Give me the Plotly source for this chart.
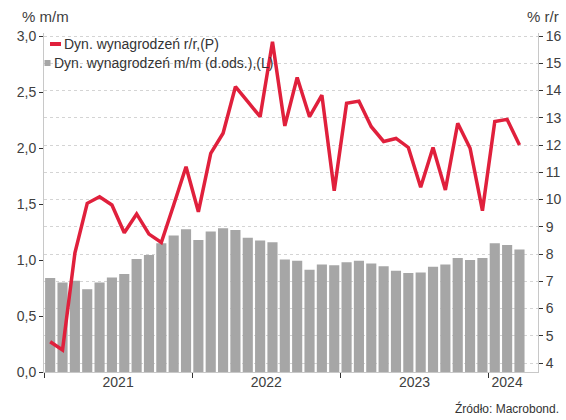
import plotly.graph_objects as go

months = list(range(39))  # Jan 2021 .. Mar 2024 (month index)
mm_values = [0.84, 0.80, 0.815, 0.74, 0.80, 0.845, 0.875, 1.01, 1.045, 1.15, 1.22, 1.275,
             1.18, 1.255, 1.285, 1.27, 1.20, 1.175, 1.16, 1.005, 0.995, 0.915, 0.96, 0.955,
             0.98, 0.995, 0.97, 0.945, 0.905, 0.885, 0.89, 0.94, 0.96, 1.02, 1.0, 1.02,
             1.15, 1.135, 1.095]
yy_values = [4.78, 4.48, 8.03, 9.86, 10.10, 9.80, 8.78, 9.47, 8.73, 8.42, 9.80, 11.20,
             9.55, 11.69, 12.43, 14.14, 13.59, 13.04, 15.79, 12.70, 14.48, 13.04, 13.83, 10.32,
             13.53, 13.61, 12.67, 12.13, 12.24, 11.91, 10.45, 11.91, 10.35, 12.80, 11.88, 9.59,
             12.86, 12.94, 12.0]
year_labels = ["2021", "2022", "2023", "2024"]
year_label_pos = [5.5, 17.5, 29.5, 37]
year_bounds = [-0.5, 11.5, 23.5, 35.5]
left_ticks = [0, 0.5, 1.0, 1.5, 2.0, 2.5, 3.0]
right_ticks = list(range(4, 17))

name_line = "Dyn. wynagrodzeń r/r,(P)"
name_bar = "Dyn. wynagrodzeń m/m (d.ods.),(L)"

FONT = "Liberation Sans, Arial, sans-serif"
TXT = "#404040"
AX = "#c8c8c8"
RED = "#e0203c"
GREY = "#a6a6a6"

ML, MR, MT, MB = 44, 28, 33, 48
W = 566 - ML - MR
H = 420 - MT - MB


def px(x):
    return (x - ML) / W


def py(y):
    return (420 - MB - y) / H


fig = go.Figure()
fig.add_trace(go.Bar(x=months, y=mm_values, name=name_bar, showlegend=False,
                     marker=dict(color=GREY, line=dict(width=0))))
fig.add_trace(go.Scatter(x=months, y=yy_values, mode="lines", name=name_line, showlegend=False,
                         line=dict(color=RED, width=3.5), yaxis="y2"))
# invisible trace for year labels axis
fig.add_trace(go.Scatter(x=year_label_pos, y=[None] * 4, xaxis="x2", showlegend=False,
                         hoverinfo="skip", mode="markers"))

xr = [-0.5, 39.5]
fig.update_layout(
    width=566, height=420,
    margin=dict(l=ML, r=MR, t=MT, b=MB),
    paper_bgcolor="white", plot_bgcolor="white",
    separators=", ",
    font=dict(family=FONT, size=14, color=TXT),
    bargap=0.18,
    showlegend=False,
    xaxis=dict(range=xr, tickmode="array", tickvals=year_bounds, ticktext=[""] * 4,
               ticks="outside", ticklen=5, tickcolor="#333333", showgrid=False,
               showline=True, linecolor=AX, linewidth=1, zeroline=False, automargin=False),
    xaxis2=dict(range=xr, overlaying="x", side="bottom", tickmode="array",
                tickvals=year_label_pos, ticktext=year_labels, ticks="", showgrid=False,
                showline=False, zeroline=False, tickfont=dict(size=14, color=TXT),
                automargin=False),
    yaxis=dict(range=[0, 3.03], tickmode="array", tickvals=left_ticks, tickformat=".1f",
               ticks="outside", ticklen=4, tickcolor="#333333", showgrid=False,
               showline=True, linecolor=AX, linewidth=1, zeroline=False,
               tickfont=dict(size=14, color=TXT), automargin=False),
    yaxis2=dict(range=[3.67, 16.11], overlaying="y", side="right", tickmode="array",
                tickvals=right_ticks, ticks="outside", ticklen=4, tickcolor="#333333",
                showgrid=True, gridcolor="#d4d4d4", griddash="dot", gridwidth=1,
                showline=True, linecolor=AX, linewidth=1, zeroline=False,
                tickfont=dict(size=14, color=TXT), automargin=False),
)

annotations = [
    dict(text="% m/m", x=px(20), y=py(16), xanchor="left"),
    dict(text="% r/r", x=px(561), y=py(16), xanchor="right"),
    dict(text="Źródło: Macrobond.", x=px(561), y=py(408), xanchor="right",
         font=dict(size=12, color="#333333")),
    dict(text=name_line, x=px(62), y=py(44), xanchor="left",
         font=dict(size=14, color="#333333")),
    dict(text=name_bar, x=px(52), y=py(63), xanchor="left",
         font=dict(size=14, color="#333333")),
]
for a in annotations:
    a.setdefault("font", dict(size=15, color=TXT))
    a.update(xref="paper", yref="paper", showarrow=False, yanchor="middle")
fig.update_layout(annotations=annotations)

# legend symbols
fig.add_shape(type="line", xref="paper", yref="paper", x0=px(50), x1=px(61), y0=py(44), y1=py(44),
              line=dict(color=RED, width=4))
fig.add_shape(type="rect", xref="paper", yref="paper", x0=px(44.5), x1=px(50.5), y0=py(60), y1=py(66),
              line=dict(width=0), fillcolor=GREY)

fig.write_html("out.html", config={"displayModeBar": False},
               post_script="document.body.style.margin='0px';document.body.style.overflow='hidden';")
